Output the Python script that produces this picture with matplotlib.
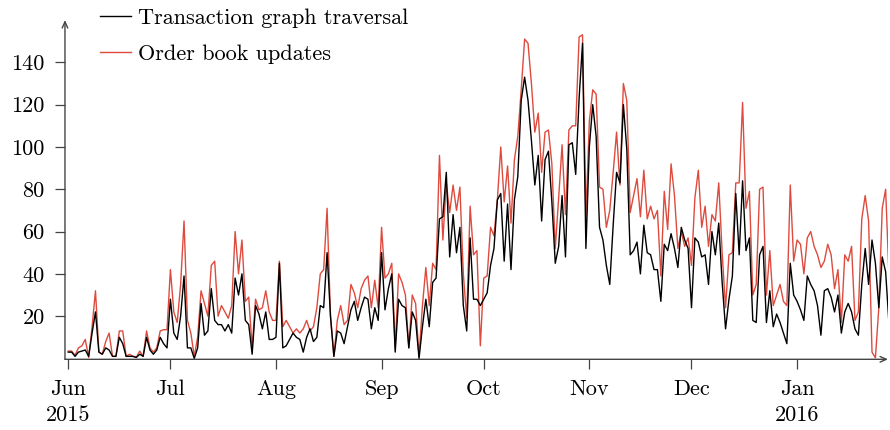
import matplotlib
matplotlib.use("Agg")
import matplotlib.pyplot as plt
import matplotlib.dates as mdates
import numpy as np
import pandas as pd

plt.rcParams['font.family'] = ['cmr10', 'DejaVu Serif']
plt.rcParams['axes.formatter.use_mathtext'] = True
plt.rcParams['mathtext.fontset'] = 'cm'

# ---- data (daily, starting 2015-06-01) ----
tx_jun = [3, 3, 1, 3, 3.5, 4, 1, 12, 22, 3, 2, 5, 4, 1, 1, 10, 7, 1, 1, 1, 0.5, 2, 1, 10, 4, 2, 4, 10, 7, 5]
ob_jun = [3.5, 3.5, 1.5, 5, 6, 9, 0.5, 15, 32, 3, 2, 8, 12, 1, 1, 13, 13, 1, 2, 1, 0.5, 3.5, 1, 13, 5, 3, 5, 13, 13.6, 13.6]
tx_jul = [28, 12, 9, 20, 39, 5, 5, 0, 5, 26, 11, 13, 33, 18, 16, 16, 13, 16, 12, 38, 30, 40, 18, 16, 2, 25, 21, 14, 22, 9, 9]
ob_jul = [42, 22, 17, 35, 65, 18, 12, 1, 10, 32, 26, 20, 44, 46, 20, 25, 22, 19, 25, 60, 40, 56, 27, 29, 5, 28, 23, 24, 32, 22, 18]
tx_aug = [10, 45, 5, 6, 9, 12, 10, 9, 3, 10, 14, 8, 10, 25, 24, 50, 20, 1, 13, 12, 7, 15, 23, 27, 18, 24, 29, 28, 14, 24, 18]
ob_aug = [18, 46, 15, 18, 15, 12, 14, 12, 14, 18, 13, 15, 24, 40, 42, 71, 20, 1, 18, 25, 16, 18, 35, 31, 24, 33, 37, 39, 24, 37, 24]
tx_sep = [50, 23, 33, 40, 3, 28, 25, 24, 5, 22, 18, 0, 15, 28, 15, 36, 38, 66, 67, 88, 48, 68, 50, 62, 25, 13, 57, 28, 28, 25]
ob_sep = [62, 38, 40, 45, 5, 40, 36, 30, 5, 30, 26, 1, 25, 43, 25, 45, 42, 96, 56, 83, 69, 82, 70, 81, 40, 19, 72, 49, 51, 6]
tx_oct = [28, 31, 44, 52, 75, 78, 46, 73, 42, 75, 86, 122, 133, 122, 103, 82, 96, 65, 94, 98, 74, 45, 53, 77, 48, 101, 102, 87, 123, 149, 52]
ob_oct = [38, 39, 62, 58, 75, 100, 74, 91, 64, 94, 105, 127, 151, 149, 130, 107, 116, 88, 107, 108, 92, 52, 76, 101, 68, 108, 110, 110, 152, 153, 67]
tx_nov = [100, 120, 105, 62, 56, 44, 35, 63, 88, 83, 120, 99, 49, 51, 55, 40, 63, 50, 49, 42, 42, 27, 54, 51, 59, 52, 43, 62, 56, 52]
ob_nov = [112, 127, 125, 81, 80, 62, 70, 88, 107, 82, 130, 122, 69, 77, 85, 67, 89, 66, 72, 66, 70, 39, 79, 61, 92, 77, 52, 60, 53, 57]
tx_dec = [24, 57, 55, 48, 49, 35, 60, 49, 64, 36, 14, 28, 39, 78, 49, 84, 51, 57, 18, 17, 49, 53, 17, 32, 15, 21, 17, 12, 7, 45, 30]
ob_dec = [44, 76, 89, 62, 72, 53, 68, 65, 83, 50, 24, 49, 50, 83, 83, 121, 71, 79, 30, 35, 80, 81, 30, 51, 25, 30, 35, 27, 25, 82, 46]
tx_jan = [27, 23, 18, 39, 35, 32, 25, 11, 32, 33, 29, 22, 30, 12, 22, 26, 22, 14, 11, 35, 52, 35, 56, 45, 24, 48, 41, 16]
ob_jan = [56, 54, 40, 57, 60, 53, 49, 43, 46, 54, 49, 33, 42, 17, 49, 46, 53, 18, 22, 66, 77, 65, 3, 0.3, 24, 71, 80, 38]

series_labels = ["Transaction graph traversal", "Order book updates"]
start_date = "2015-06-01"
tick_months = ["2015-06-01", "2015-07-01", "2015-08-01", "2015-09-01", "2015-10-01",
               "2015-11-01", "2015-12-01", "2016-01-01"]
tick_labels = ["Jun\n2015", "Jul", "Aug", "Sep", "Oct", "Nov", "Dec", "Jan\n2016"]
y_ticks = [20, 40, 60, 80, 100, 120, 140]

tx = tx_jun + tx_jul + tx_aug + tx_sep + tx_oct + tx_nov + tx_dec + tx_jan
ob = ob_jun + ob_jul + ob_aug + ob_sep + ob_oct + ob_nov + ob_dec + ob_jan
dates = pd.date_range(start_date, periods=len(tx), freq="D")

fig = plt.figure(figsize=(8.9, 4.3), dpi=100)
ax = fig.add_axes([0.073, 0.1644, 0.9248, 0.789])

red = '#de4b3e'
axis_col = '#444444'
ax.plot(dates, tx, color='black', lw=1.0, label=series_labels[0], zorder=3)
ax.plot(dates, ob, color=red, lw=1.0, label=series_labels[1], zorder=2)

ax.set_xlim(pd.Timestamp("2015-05-31 01:00"), pd.Timestamp("2016-01-27 17:00"))
ax.set_ylim(-0.4, 160)

ax.set_xticks(pd.to_datetime(tick_months))
ax.set_xticklabels(tick_labels, linespacing=1.45)
ax.set_yticks(y_ticks)
ax.set_yticklabels([str(v) for v in y_ticks])

for s in ['top', 'right', 'left', 'bottom']:
    ax.spines[s].set_visible(False)

ax.annotate('', xy=(0, 1.0), xytext=(0, 0), xycoords='axes fraction',
            arrowprops=dict(arrowstyle='->,head_length=0.45,head_width=0.2',
                            color=axis_col, lw=1.0, shrinkA=0, shrinkB=0))
ax.annotate('', xy=(1.0, 0), xytext=(0, 0), xycoords='axes fraction',
            arrowprops=dict(arrowstyle='->,head_length=0.45,head_width=0.2',
                            color=axis_col, lw=1.0, shrinkA=0, shrinkB=0))

ax.tick_params(axis='both', colors=axis_col, labelcolor='black', labelsize=16,
               length=7.5, width=0.9, direction='out')
ax.tick_params(axis='y', pad=7)
ax.tick_params(axis='x', pad=7)

leg = ax.legend(loc='upper left', bbox_to_anchor=(100 / 890, 1 - 8 / 430), bbox_transform=fig.transFigure,
                frameon=False, fontsize=16, handlelength=1.4, handletextpad=0.3,
                labelspacing=0.75, borderaxespad=0, borderpad=0)

fig.savefig("out.png", dpi=100)
